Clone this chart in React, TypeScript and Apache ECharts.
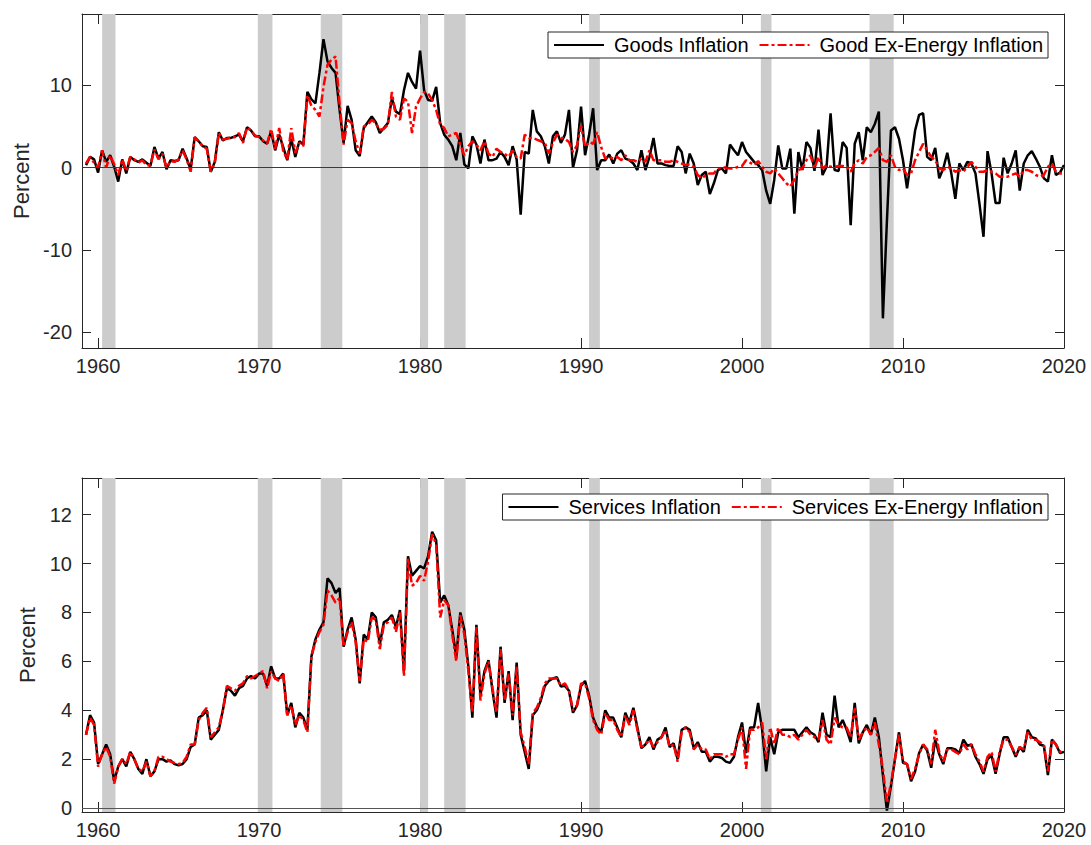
import React, { useEffect, useRef } from "react";
import * as echarts from "echarts";

// Quarterly observations, first point at 1959.25, one point per quarter (4 per row = 1 year)
const START = 1959.25;
const STEP = 0.25;

const goods: number[] = [
  0.3, 1.3, 1.0, -0.6,
  2.1, 0.7, 1.5, 0.1,
  -1.7, 1.0, -0.7, 1.3,
  0.9, 0.7, 1.0, 0.6,
  0.2, 2.5, 1.1, 1.9,
  -0.2, 0.9, 0.8, 0.9,
  2.3, 1.1, -0.2, 3.7,
  3.2, 2.6, 2.5, -0.5,
  0.7, 4.3, 3.3, 3.6,
  3.6, 3.8, 4.0, 3.2,
  4.9, 4.5, 3.8, 3.8,
  3.2, 2.9, 4.4, 2.1,
  4.0, 2.5, 0.9, 3.5,
  1.3, 3.2, 2.8, 9.2,
  8.3, 7.8, 11.5, 15.6,
  12.9, 12.1, 11.5, 7.0,
  3.0, 7.5, 5.8, 2.1,
  1.4, 4.8, 5.5, 6.2,
  5.5, 4.2, 4.8, 5.4,
  8.4, 6.8, 6.5, 9.4,
  11.5, 10.4, 9.6, 14.2,
  9.4, 8.2, 8.1, 9.8,
  5.4, 4.0, 3.4, 2.6,
  0.9, 4.2, 0.4, -0.1,
  3.8, 2.8, 0.5, 3.4,
  0.9, 0.9, 1.1, 1.9,
  1.3, 0.3, 2.6, 1.0,
  -5.7, 1.9, 1.7, 7.0,
  4.4, 3.8, 2.6, 0.5,
  3.8, 4.4, 3.0, 4.0,
  7.0, 0.0, 2.1, 7.4,
  1.5, 4.0, 7.2, -0.3,
  0.9, 0.9, 1.6, 0.5,
  1.7, 2.1, 1.1, 0.9,
  0.5, -0.3, 2.1, -0.3,
  1.3, 3.6, 0.5, 0.5,
  0.3, 0.2, 0.2, 2.6,
  1.9, -0.7, 1.7, 0.5,
  -2.1, -0.9, -0.5, -3.2,
  -1.9, -0.3, -0.1, -0.7,
  2.8, 2.1, 1.5, 3.1,
  1.9, 1.3, 0.7, 0.3,
  -0.3, -2.8, -4.4, -1.5,
  2.7, -0.1, -0.1, 2.3,
  -5.6, 1.9, -0.3, 3.1,
  2.4, -0.4, 4.6, -0.9,
  0.1, 6.6, -0.3, -0.4,
  3.1, 2.4, -7.0, 2.9,
  4.3, 0.9, 4.9, 4.3,
  5.3, 6.8, -18.3, -6.5,
  4.5, 4.9, 3.5, 0.9,
  -2.5, 0.9, 4.5, 6.4,
  6.6, 1.3, 0.9, 2.4,
  -1.3, -0.1, 1.8, -0.7,
  -3.8, 0.5, -0.3, 0.7,
  0.5, -0.7, -4.4, -8.4,
  2.0, -0.7, -4.3, -4.3,
  1.2, -0.7, 0.5, 2.1,
  -2.8, 0.5, 1.5, 2.0,
  1.1, 0.1, -1.3, -1.7,
  1.5, -0.9, -0.6, 0.3,
];

const goodsExEnergy: number[] = [
  0.5, 1.3, 0.6, 0.0,
  2.1, 0.0, 1.5, 0.4,
  -0.9, 1.0, -0.4, 1.3,
  1.0, 0.6, 0.9, 0.3,
  0.3, 2.2, 1.0, 1.7,
  0.0, 0.8, 0.7, 1.0,
  2.1, 1.0, -0.5, 3.7,
  3.2, 2.6, 2.3, -0.5,
  0.6, 4.2, 3.4, 3.5,
  3.7, 3.7, 4.2, 3.0,
  4.9, 4.5, 3.9, 3.7,
  3.3, 2.9, 4.7, 2.3,
  4.8, 2.0, 1.0, 4.8,
  1.8, 3.0, 2.6, 8.8,
  7.5, 7.0, 6.2, 9.8,
  12.5, 13.1, 13.5, 7.8,
  2.8, 5.8, 5.4, 3.2,
  1.7, 5.0, 5.2, 5.8,
  5.4, 4.6, 4.7, 5.2,
  9.2, 6.2, 5.8, 8.4,
  8.0, 4.2, 7.4, 8.4,
  9.2, 9.0, 8.2, 7.0,
  5.2, 4.8, 3.8, 4.0,
  4.2, 2.8, 1.5, 2.6,
  3.2, 2.8, 2.1, 3.2,
  1.7, 1.3, 2.3, 1.9,
  1.7, 1.3, 2.1, 1.3,
  1.1, 4.0, 3.6, 3.6,
  3.4, 3.2, 3.0, 1.7,
  3.0, 4.0, 3.6, 3.5,
  3.1, 1.9, 2.7, 5.1,
  2.5, 3.1, 2.9, 4.3,
  2.5, 1.1, 1.3, 1.1,
  1.3, 0.9, 1.5, 0.9,
  0.9, 0.7, 1.1, 0.7,
  2.1, 0.9, 0.9, 0.9,
  0.7, 0.7, 0.9, 0.7,
  0.5, 0.3, 0.4, 0.1,
  -0.9, -1.3, -0.9, -0.7,
  -0.7, -0.1, 0.0, 0.0,
  -0.1, -0.1, 0.1, 0.2,
  0.9, 0.6, 0.3, 0.8,
  0.1, -0.5, -0.7, -0.1,
  -0.7, -1.3, -1.9, -2.3,
  -1.5, -0.3, -0.1, 0.9,
  1.5, -0.1, 1.3, -0.1,
  0.3, 0.1, 0.1, 0.2,
  0.2, 0.1, -0.5, 0.5,
  0.9, 0.5, 1.3, 1.5,
  1.9, 2.4, 0.9, 0.7,
  1.5, 0.1, -0.3, -0.1,
  -0.9, -0.7, 0.9, 1.9,
  2.9, 2.1, 1.3, 0.9,
  -0.1, -0.3, 0.1, -0.1,
  -0.5, -0.3, -0.5, 0.1,
  0.7, 0.1, -0.5, -0.5,
  -0.3, -0.5, -0.7, -1.1,
  -1.1, -1.1, -0.9, -0.7,
  -1.1, -0.3, -0.3, -0.5,
  -0.9, -1.1, -0.9, 0.1,
  0.5, -0.5, -0.7, -0.7,
];

const services: number[] = [
  3.0, 3.8, 3.5, 1.8,
  2.2, 2.6, 2.2, 1.1,
  1.7, 2.0, 1.7, 2.3,
  2.0, 1.6, 1.4, 2.0,
  1.3, 1.5, 2.0, 2.0,
  1.9, 1.95, 1.8, 1.75,
  1.8, 2.0, 2.5, 2.6,
  3.7, 3.8, 4.0, 2.8,
  3.0, 3.2, 4.0, 4.9,
  4.8, 4.6, 4.9, 5.0,
  5.3, 5.4, 5.3, 5.5,
  5.5, 5.0, 5.8, 5.3,
  5.3, 5.5, 3.8, 4.3,
  3.3, 3.9, 3.7, 3.2,
  6.2, 6.9, 7.3, 7.6,
  9.4, 9.2, 8.8, 9.0,
  6.6, 7.3, 7.8, 6.9,
  5.1, 7.1, 6.9, 8.0,
  7.8, 6.7, 7.6, 7.7,
  7.9, 7.4, 8.1, 5.6,
  10.3, 9.5, 9.7, 9.9,
  9.8, 10.3, 11.3, 10.95,
  8.4, 8.7, 8.3, 7.3,
  6.2, 8.0, 7.3, 5.8,
  3.7, 7.5, 4.6, 5.6,
  6.05, 4.8, 3.7, 6.6,
  4.3, 5.6, 3.6, 5.95,
  3.0, 2.3, 1.6, 3.8,
  4.0, 4.4, 5.0, 5.2,
  5.3, 5.35, 4.97, 5.0,
  4.8, 3.9, 4.2, 5.0,
  5.2, 4.6, 3.7, 3.3,
  3.1, 4.0, 3.7, 3.7,
  3.3, 2.9, 3.9, 3.5,
  4.1, 3.3, 2.45, 2.6,
  2.9, 2.4, 2.8, 2.9,
  3.3, 2.5, 2.65, 2.0,
  3.2, 3.3, 3.2, 2.45,
  2.7, 2.3, 2.3, 1.9,
  2.1, 2.1, 2.05, 1.9,
  1.85, 2.1, 2.9, 3.5,
  2.25, 3.3, 3.3, 4.3,
  3.2, 1.5, 2.9, 2.2,
  3.1, 3.2, 3.2, 3.2,
  3.2, 2.9, 3.1, 3.3,
  3.1, 3.0, 2.7, 3.9,
  3.0, 2.9, 4.6, 3.3,
  3.6, 3.2, 2.7, 4.3,
  2.65, 3.1, 3.4, 3.0,
  3.7, 2.9, 1.35, -0.1,
  0.9, 2.0, 3.1, 1.85,
  1.8, 1.1, 1.5, 2.25,
  2.6, 2.35, 1.65, 2.8,
  2.2, 1.8, 2.45, 2.45,
  2.4, 2.25, 2.8, 2.55,
  2.6, 2.1, 1.8, 1.4,
  2.0, 2.15, 1.4, 2.2,
  2.9, 2.9, 2.5, 2.1,
  2.5, 2.3, 3.2, 2.9,
  2.85, 2.6, 2.55, 1.35,
  2.8, 2.6, 2.25, 2.3,
];

const servicesExEnergy: number[] = [
  3.0, 3.7, 3.4, 1.7,
  2.2, 2.5, 2.1, 1.0,
  1.7, 2.0, 1.8, 2.3,
  2.0, 1.6, 1.5, 1.9,
  1.3, 1.5, 2.1, 2.1,
  2.0, 1.9, 1.85, 1.8,
  1.85, 2.1, 2.6, 2.6,
  3.6, 3.9, 4.1, 2.9,
  3.1, 3.3, 4.0, 5.0,
  4.9, 4.8, 5.0, 5.1,
  5.4, 5.3, 5.4, 5.5,
  5.6, 4.9, 5.6, 5.3,
  5.2, 5.5, 3.8, 4.2,
  3.4, 3.8, 3.6, 3.1,
  6.2, 6.8, 7.2, 7.5,
  8.9, 8.7, 8.4, 8.6,
  6.6, 7.2, 7.6, 6.8,
  5.2, 6.9, 6.8, 7.8,
  7.7, 6.5, 7.5, 7.6,
  7.8, 7.2, 8.0, 5.4,
  10.2, 9.1, 9.2, 9.5,
  9.3, 10.1, 11.2, 10.8,
  7.8, 8.5, 8.3, 7.1,
  6.0, 7.9, 7.1, 5.6,
  3.9, 7.4, 4.4, 5.5,
  6.0, 4.9, 3.9, 6.5,
  4.4, 5.5, 3.8, 5.8,
  3.1, 2.5, 1.8, 3.9,
  4.1, 4.5, 5.1, 5.3,
  5.3, 5.3, 5.0, 5.1,
  4.8, 4.0, 4.2, 5.1,
  5.1, 4.5, 3.6, 3.2,
  3.0, 3.9, 3.6, 3.6,
  3.2, 2.9, 3.8, 3.4,
  4.0, 3.2, 2.5, 2.6,
  2.8, 2.5, 2.7, 2.9,
  3.2, 2.5, 2.6, 1.9,
  3.1, 3.3, 3.1, 2.4,
  2.6, 2.4, 2.4, 2.0,
  2.2, 2.2, 2.2, 2.1,
  2.2, 2.2, 2.8, 3.3,
  1.6, 3.2, 3.2, 3.3,
  3.5, 2.0, 3.3, 2.6,
  3.3, 3.0, 3.0, 2.9,
  3.0, 2.8, 3.0, 3.2,
  3.0, 2.9, 2.8, 3.6,
  2.8, 2.6, 3.7, 3.4,
  3.3, 3.3, 2.9, 4.1,
  2.8, 3.1, 3.3, 3.0,
  3.5, 2.6, 1.6, 0.2,
  1.0, 2.0, 3.0, 1.9,
  1.8, 1.2, 1.6, 2.2,
  2.6, 2.4, 1.8, 3.2,
  2.3, 1.9, 2.4, 2.4,
  2.3, 2.2, 2.6, 2.4,
  2.6, 2.2, 1.9, 1.5,
  2.1, 2.3, 1.5, 2.3,
  2.8, 2.8, 2.5, 2.2,
  2.5, 2.4, 3.1, 2.8,
  2.8, 2.7, 2.6, 1.5,
  2.8, 2.6, 2.3, 2.4,
];

// NBER recession periods (fractional years)
const recessions: [number, number][] = [
  [1960.25, 1961.08],
  [1969.92, 1970.83],
  [1973.83, 1975.17],
  [1980.0, 1980.5],
  [1981.5, 1982.83],
  [1990.5, 1991.17],
  [2001.17, 2001.83],
  [2007.92, 2009.42],
];

const xTicks = [1960, 1970, 1980, 1990, 2000, 2010, 2020];
const yTicksTop = [-20, -10, 0, 10];
const yTicksBottom = [0, 2, 4, 6, 8, 10, 12];

const topNames = ["Goods Inflation", "Good Ex-Energy Inflation"];
const bottomNames = ["Services Inflation", "Services Ex-Energy Inflation"];

const FONT = '"Liberation Sans", Arial, Helvetica, sans-serif';
const AXIS = "#262626";
const RED_DASH = [9, 3, 3, 3];

function pairs(values: number[]) {
  return values.map((v, i) => [START + i * STEP, v]);
}

function xAxisDef(gridIndex: number, position: "top" | "bottom") {
  return {
    type: "value",
    gridIndex,
    position,
    min: 1959,
    max: 2020,
    axisLine: { show: true, onZero: false, lineStyle: { color: AXIS, width: 1 } },
    axisTick: {
      show: true,
      inside: true,
      length: 10,
      customValues: xTicks,
      lineStyle: { color: AXIS, width: 1 },
    },
    axisLabel: {
      show: position === "bottom",
      customValues: xTicks,
      formatter: (v: number) => String(Math.round(v)),
      color: AXIS,
      fontSize: 20,
      fontFamily: FONT,
      margin: 8,
    },
    splitLine: { show: false },
  };
}

function yAxisDef(
  gridIndex: number,
  position: "left" | "right",
  min: number,
  max: number,
  ticks: number[],
  nameGap: number
) {
  return {
    type: "value",
    gridIndex,
    position,
    min,
    max,
    name: position === "left" ? "Percent" : "",
    nameLocation: "middle",
    nameGap,
    nameTextStyle: { fontSize: 22, color: AXIS, fontFamily: FONT },
    axisLine: { show: true, onZero: false, lineStyle: { color: AXIS, width: 1 } },
    axisTick: {
      show: true,
      inside: true,
      length: 9,
      customValues: ticks,
      lineStyle: { color: AXIS, width: 1 },
    },
    axisLabel: {
      show: position === "left",
      customValues: ticks,
      formatter: (v: number) => String(Math.round(v)),
      color: AXIS,
      fontSize: 20,
      fontFamily: FONT,
      margin: 10,
    },
    splitLine: { show: false },
  };
}

function bandSeries(xi: number, yi: number, data: number[]) {
  return {
    type: "line",
    name: "recessions" + xi,
    xAxisIndex: xi,
    yAxisIndex: yi,
    data: pairs(data),
    showSymbol: false,
    symbol: "none",
    silent: true,
    z: 1,
    lineStyle: { opacity: 0 },
    markArea: {
      silent: true,
      itemStyle: { color: "#cccccc", opacity: 1 },
      data: recessions.map(([a, b]) => [{ xAxis: a }, { xAxis: b }]),
    },
  };
}

function zeroSeries(xi: number, yi: number, data: number[], color: string) {
  return {
    type: "line",
    name: "zero" + xi,
    xAxisIndex: xi,
    yAxisIndex: yi,
    data: pairs(data),
    showSymbol: false,
    symbol: "none",
    silent: true,
    z: 2,
    lineStyle: { opacity: 0 },
    markLine: {
      silent: true,
      symbol: ["none", "none"],
      label: { show: false },
      lineStyle: { color, width: 1, type: "solid" },
      data: [{ yAxis: 0 }],
    },
  };
}

function lineSeries(name: string, xi: number, yi: number, data: number[], red: boolean) {
  return {
    type: "line",
    name,
    xAxisIndex: xi,
    yAxisIndex: yi,
    data: pairs(data),
    showSymbol: false,
    symbol: "none",
    z: red ? 4 : 3,
    lineStyle: red
      ? { color: "#ff0000", width: 2.5, type: RED_DASH }
      : { color: "#000000", width: 2.5, type: "solid" },
    itemStyle: { color: red ? "#ff0000" : "#000000" },
  };
}

function legendDef(names: string[], top: number) {
  return {
    data: names,
    top,
    right: 43,
    orient: "horizontal",
    itemWidth: 50,
    itemHeight: 14,
    itemGap: 10,
    padding: [3, 5],
    borderColor: AXIS,
    borderWidth: 1,
    borderRadius: 0,
    backgroundColor: "#ffffff",
    selectedMode: false,
    itemStyle: { opacity: 0 },
    textStyle: { fontSize: 20, color: "#000000", fontFamily: FONT, padding: [0, 0, 0, 5] },
  };
}

export default function App() {
  const ref = useRef<HTMLDivElement>(null);

  useEffect(() => {
    if (!ref.current) return;
    const chart = echarts.init(ref.current, null, { renderer: "svg" });
    chart.setOption({
      animation: false,
      backgroundColor: "#ffffff",
      grid: [
        { left: 82, top: 14, width: 982, height: 334 },
        { left: 82, top: 478, width: 982, height: 334 },
      ],
      xAxis: [
        xAxisDef(0, "bottom"),
        xAxisDef(0, "top"),
        xAxisDef(1, "bottom"),
        xAxisDef(1, "top"),
      ],
      yAxis: [
        yAxisDef(0, "left", -21.9, 18.65, yTicksTop, 47),
        yAxisDef(0, "right", -21.9, 18.65, yTicksTop, 0),
        yAxisDef(1, "left", -0.16, 13.5, yTicksBottom, 44),
        yAxisDef(1, "right", -0.16, 13.5, yTicksBottom, 0),
      ],
      legend: [legendDef(topNames, 32), legendDef(bottomNames, 494)],
      series: [
        bandSeries(0, 0, goods),
        zeroSeries(0, 0, goods, "#3a3a3a"),
        lineSeries(topNames[0], 0, 0, goods, false),
        lineSeries(topNames[1], 0, 0, goodsExEnergy, true),
        bandSeries(2, 2, services),
        zeroSeries(2, 2, services, "#555555"),
        lineSeries(bottomNames[0], 2, 2, services, false),
        lineSeries(bottomNames[1], 2, 2, servicesExEnergy, true),
      ],
    });
    return () => chart.dispose();
  }, []);

  return (
    <div
      ref={ref}
      style={{ position: "absolute", left: 0, top: 0, width: 1091, height: 845, background: "#fff" }}
    />
  );
}
